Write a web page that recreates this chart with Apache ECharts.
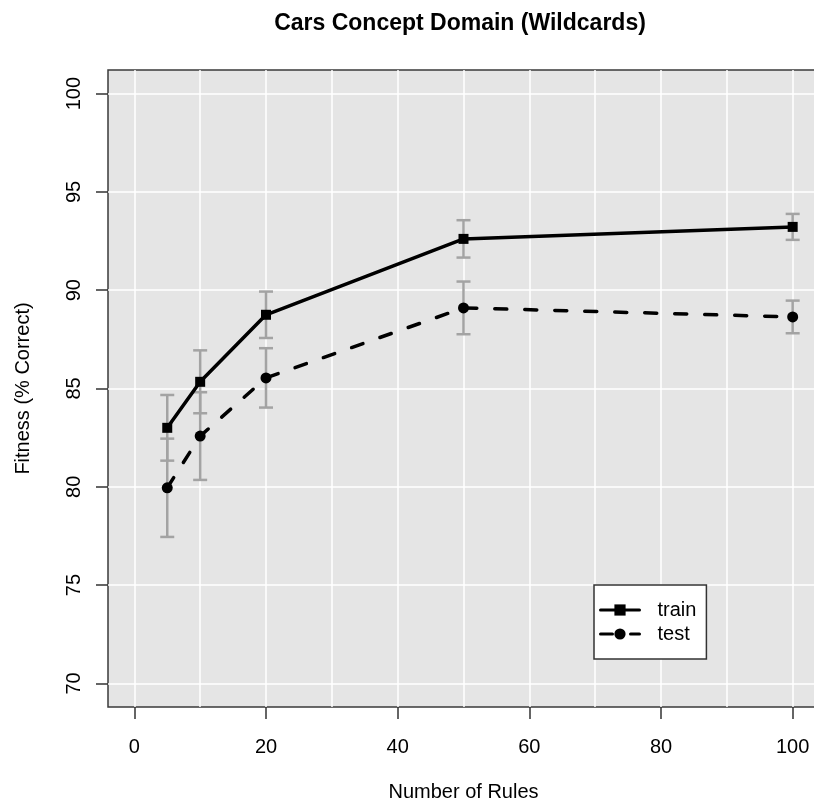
<!DOCTYPE html>
<html>
<head>
<meta charset="utf-8">
<script src="https://cdn.jsdelivr.net/npm/echarts@6/dist/echarts.min.js"></script>
<style>html,body{margin:0;padding:0;background:#fff}#c{width:814px;height:805px}</style>
</head>
<body>
<div id="c"></div>
<script>
const xValues = [5, 10, 20, 50, 100];
const trainMean = [83.0, 85.34, 88.75, 92.61, 93.22];
const trainErr = [1.67, 1.6, 1.18, 0.95, 0.66];
const testMean = [79.95, 82.58, 85.54, 89.10, 88.64];
const testErr = [2.5, 2.23, 1.51, 1.34, 0.83];
const xTicks = [0, 20, 40, 60, 80, 100];
const yTicks = [70, 75, 80, 85, 90, 95, 100];
const xGrid = [0, 10, 20, 30, 40, 50, 60, 70, 80, 90, 100];
const yGrid = [70, 75, 80, 85, 90, 95, 100];

const FONT = 'Liberation Sans, Arial, Helvetica, sans-serif';
const chart = echarts.init(document.getElementById('c'), null, {renderer: 'canvas'});

function pairs(xs, ys) { return xs.map((x, i) => [x, ys[i]]); }
const errData = [];
xValues.forEach((x, i) => {
  errData.push([x, trainMean[i] - trainErr[i], trainMean[i] + trainErr[i]]);
  errData.push([x, testMean[i] - testErr[i], testMean[i] + testErr[i]]);
});

const option = {
  animation: false,
  backgroundColor: '#ffffff',
  title: {
    text: 'Cars Concept Domain (Wildcards)',
    left: 460, top: 12, textAlign: 'center', padding: 0,
    textStyle: {fontFamily: FONT, fontWeight: 'bold', fontSize: 23, color: '#000'}
  },
  grid: {
    left: 108, top: 70, width: 711, height: 637,
    show: true, backgroundColor: '#e5e5e5', borderColor: '#3a3a3a', borderWidth: 1.5,
    containLabel: false, outerBoundsMode: 'none'
  },
  legend: {
    orient: 'vertical', left: 594, top: 585,
    padding: [15, 10, 15, 5],
    itemWidth: 39, itemHeight: 14, itemGap: 4,
    backgroundColor: '#ffffff', borderColor: '#333', borderWidth: 1.5, borderRadius: 0,
    lineStyle: {width: 3},
    textStyle: {fontFamily: FONT, fontSize: 20, color: '#000', padding: [0, 0, 0, 13]},
    data: ['train', 'test']
  },
  xAxis: {
    type: 'value', min: -4, max: 104,
    name: 'Number of Rules', nameLocation: 'middle', nameGap: 75,
    nameTextStyle: {fontFamily: FONT, fontSize: 20, color: '#000'},
    axisLine: {show: false, onZero: false},
    axisTick: {show: true, length: 12, customValues: xTicks, lineStyle: {color: '#333', width: 1.5}},
    axisLabel: {show: true, customValues: xTicks, margin: 30, fontFamily: FONT, fontSize: 20, color: '#000'},
    splitLine: {show: false}
  },
  yAxis: {
    type: 'value', min: 68.8, max: 101.2,
    name: 'Fitness (% Correct)', nameLocation: 'middle', nameGap: 75,
    nameTextStyle: {fontFamily: FONT, fontSize: 20, color: '#000'},
    axisLine: {show: false, onZero: false},
    axisTick: {show: true, length: 12, customValues: yTicks, lineStyle: {color: '#333', width: 1.5}},
    axisLabel: {show: true, customValues: yTicks, rotate: 90, margin: 24, fontFamily: FONT, fontSize: 20, color: '#000'},
    splitLine: {show: false}
  },
  series: [
    {
      name: 'grid', type: 'line', data: [], z: 1, silent: true,
      markLine: {
        z: 1, silent: true, symbol: ['none', 'none'], label: {show: false}, animation: false,
        lineStyle: {color: '#ffffff', width: 1.5, type: 'solid'},
        emphasis: {disabled: true},
        data: xGrid.map(v => ({xAxis: v})).concat(yGrid.map(v => ({yAxis: v})))
      }
    },
    {
      name: 'err', type: 'custom', z: 2, silent: true,
      data: errData,
      renderItem: function (params, api) {
        const x = api.value(0);
        const lo = api.coord([x, api.value(1)]);
        const hi = api.coord([x, api.value(2)]);
        const hw = 7;
        const st = {stroke: '#a3a3a3', lineWidth: 2.5};
        return {type: 'group', children: [
          {type: 'line', shape: {x1: lo[0], y1: lo[1], x2: hi[0], y2: hi[1]}, style: st},
          {type: 'line', shape: {x1: lo[0] - hw, y1: lo[1], x2: lo[0] + hw, y2: lo[1]}, style: st},
          {type: 'line', shape: {x1: hi[0] - hw, y1: hi[1], x2: hi[0] + hw, y2: hi[1]}, style: st}
        ]};
      }
    },
    {
      name: 'train', type: 'line', z: 3, data: pairs(xValues, trainMean),
      symbol: 'rect', symbolSize: 10, showAllSymbol: true,
      lineStyle: {color: '#000', width: 3.5, type: 'solid', cap: 'round', join: 'round'},
      itemStyle: {color: '#000', borderWidth: 0}
    },
    {
      name: 'test', type: 'line', z: 3, data: pairs(xValues, testMean),
      symbol: 'circle', symbolSize: 11, showAllSymbol: true,
      lineStyle: {color: '#000', width: 3.5, type: [12, 18], cap: 'round', join: 'round'},
      itemStyle: {color: '#000', borderWidth: 0}
    }
  ]
};
chart.setOption(option);
</script>
</body>
</html>
